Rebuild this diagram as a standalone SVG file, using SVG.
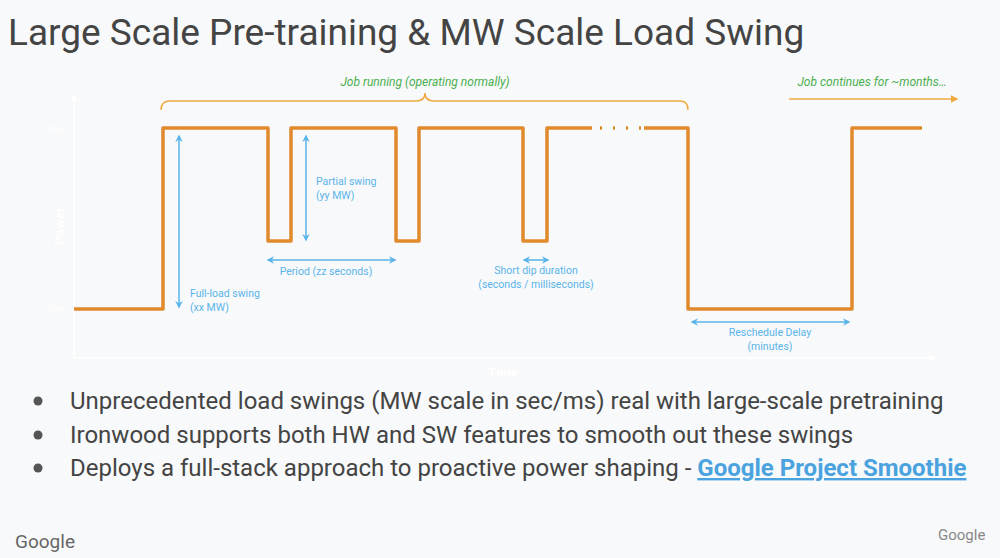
<svg xmlns="http://www.w3.org/2000/svg" width="1000" height="558" viewBox="0 0 1000 558">
<defs>
<marker id="ba" viewBox="0 0 10 10" refX="8" refY="5" markerWidth="5" markerHeight="5" orient="auto-start-reverse"><path d="M0,0 L10,5 L0,10 L3,5 z" fill="#5ab4ea"/></marker>
<marker id="oa" viewBox="0 0 10 10" refX="8" refY="5" markerWidth="5" markerHeight="5" orient="auto"><path d="M0,0 L10,5 L0,10 z" fill="#f0a840"/></marker>
<marker id="wa" viewBox="0 0 10 10" refX="8" refY="5" markerWidth="5" markerHeight="5" orient="auto"><path d="M0,0 L10,5 L0,10 z" fill="#ffffff"/></marker>
<style>
.t{font-family:Roboto,"Liberation Sans",sans-serif}
.b{font-family:Roboto,"Liberation Sans",sans-serif;font-size:10.5px;fill:#5ab4ea}
.g{font-family:Roboto,"Liberation Sans",sans-serif;font-size:12px;fill:#4caf50;font-style:italic}
.bul{font-family:Roboto,"Liberation Sans",sans-serif;font-size:24px;fill:#444}
.ba{stroke:#5ab4ea;stroke-width:1.5;fill:none;marker-start:url(#ba);marker-end:url(#ba)}
</style>
</defs>
<rect width="1000" height="558" fill="#f8f9fa"/>
<text class="t" x="8" y="45" font-size="37" fill="#444">Large Scale Pre-training &amp; MW Scale Load Swing</text>
<g id="axes" stroke="#ffffff" stroke-width="1.5" fill="none">
<line x1="74" y1="358" x2="74" y2="95" marker-end="url(#wa)"/>
<line x1="74" y1="358" x2="935" y2="358" marker-end="url(#wa)"/>
</g>
<g class="t" fill="#ffffff" font-size="11">
<text x="57" y="133" text-anchor="middle" font-style="italic">Full</text>
<text x="55" y="313" text-anchor="middle" font-style="italic">Idle</text>
<text x="64" y="226" text-anchor="middle" font-weight="bold" font-size="13" transform="rotate(-90 64 226)">Power</text>
<text x="503" y="377" text-anchor="middle" font-weight="bold" font-size="13">Time</text>
</g>
<g id="connectors">
<path d="M74,309 H163 V128 H268 V241 H291 V128 H396 V241 H419 V128 H523 V241 H547 V128 H592 M644,128 H688 V309 H852 V128 H922" fill="none" stroke="#e08a2c" stroke-width="3.5" stroke-linejoin="round"/>
<path d="M600,128 h2 M613,128 h2 M626,128 h2 M639,128 h2" stroke="#e08a2c" stroke-width="3.5"/>
<path d="M161,110 Q161,101 170,101 H416 Q425,101 425,93 Q425,101 434,101 H680 Q688,101 688,110" fill="none" stroke="#f0a840" stroke-width="1.5"/>
<line x1="789" y1="99" x2="957" y2="99" stroke="#f0a840" stroke-width="1.5" marker-end="url(#oa)"/>
<line class="ba" x1="179" y1="136" x2="179" y2="307"/>
<line class="ba" x1="306" y1="136" x2="306" y2="240"/>
<line class="ba" x1="268" y1="260" x2="395" y2="260"/>
<line class="ba" x1="524" y1="260" x2="548" y2="260"/>
<line class="ba" x1="692" y1="322" x2="849" y2="322"/>
</g>
<g id="labels">
<text class="g" x="425" y="86" text-anchor="middle">Job running (operating normally)</text>
<text class="g" x="872" y="86" text-anchor="middle">Job continues for ~months…</text>
<text class="b" x="190" y="297">Full-load swing</text>
<text class="b" x="190" y="311">(xx MW)</text>
<text class="b" x="316" y="185">Partial swing</text>
<text class="b" x="316" y="199">(yy MW)</text>
<text class="b" x="326" y="275" text-anchor="middle">Period (zz seconds)</text>
<text class="b" x="536" y="274" text-anchor="middle">Short dip duration</text>
<text class="b" x="536" y="288" text-anchor="middle">(seconds / milliseconds)</text>
<text class="b" x="770" y="336" text-anchor="middle">Reschedule Delay</text>
<text class="b" x="770" y="350" text-anchor="middle">(minutes)</text>
</g>
<g id="bullets">
<circle cx="38" cy="401" r="4.5" fill="#555"/>
<circle cx="38" cy="435" r="4.5" fill="#555"/>
<circle cx="38" cy="468" r="4.5" fill="#555"/>
<text class="bul" x="70" y="409">Unprecedented load swings (MW scale in sec/ms) real with large-scale pretraining</text>
<text class="bul" x="70" y="443">Ironwood supports both HW and SW features to smooth out these swings</text>
<text class="bul" x="70" y="476">Deploys a full-stack approach to proactive power shaping - <tspan fill="#4aa3df" font-weight="bold" text-decoration="underline">Google Project Smoothie</tspan></text>
</g>
<text class="t" x="15" y="548" font-size="19" fill="#666">Google</text>
<text class="t" x="938" y="540" font-size="15" fill="#888">Google</text>
</svg>
